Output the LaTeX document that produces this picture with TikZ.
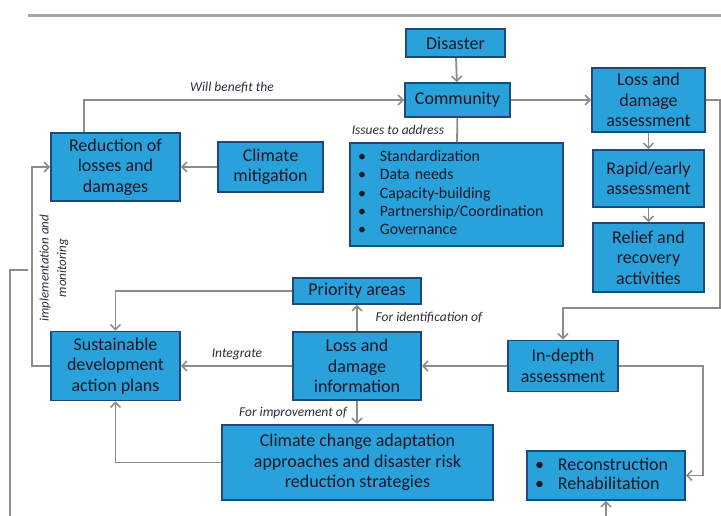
\documentclass[tikz,border=0pt]{standalone}
\usepackage{fontspec}
\setmainfont{Carlito}
\usetikzlibrary{arrows.meta}
\definecolor{boxfill}{RGB}{41,161,219}
\definecolor{boxline}{RGB}{31,73,125}
\definecolor{boxtext}{RGB}{22,24,38}
\definecolor{arrgray}{RGB}{140,140,140}
\definecolor{rulegray}{RGB}{168,168,168}
\tikzset{
  box/.style={draw=boxline, line width=1.6pt, fill=boxfill, text=boxtext,
    align=center, inner sep=2pt, font=\fontsize{18}{20.5}\selectfont},
  conn/.style={draw=arrgray, line width=1.8pt},
  arr/.style={conn, -{Straight Barb[length=5pt,width=10pt,line width=1.6pt]}},
  lbl/.style={font=\fontsize{13.5}{15}\selectfont\itshape, text=boxtext!90!white, inner sep=1pt},
}
\begin{document}
\begin{tikzpicture}[x=1pt,y=-1pt]
\useasboundingbox (0,0) rectangle (721,516);
\fill[white] (0,0) rectangle (721,516);
\draw[rulegray, line width=3pt] (28,16) -- (721,16);

\node[box, minimum width=99pt, minimum height=28pt] (dis) at (455.5,43) {Disaster};
\node[box, minimum width=105pt, minimum height=34pt] (com) at (457.5,100) {Community};
\node[box, minimum width=113pt, minimum height=64pt] (lda) at (648.5,100) {Loss and\\damage\\assessment};
\node[box, minimum width=111pt, minimum height=57pt] (rap) at (648.5,178.5) {Rapid/early\\assessment};
\node[box, minimum width=111pt, minimum height=69pt] (rel) at (648.5,257.5) {Relief and\\recovery\\activities};
\node[box, minimum width=213pt, minimum height=103pt, text width=197pt, inner xsep=8pt, align=left,
  font=\fontsize{15.8}{18.2}\selectfont] (iss) at (456.5,194.5)
  {\begin{tabular}{@{}l@{\hspace{14pt}}l@{}}
   • & Standardization\\
   • & Data needs\\
   • & Capacity-building\\
   • & Partnership/Coordination\\
   • & Governance
   \end{tabular}};
\node[box, minimum width=129pt, minimum height=68pt] (red) at (115.5,167) {Reduction of\\losses and\\damages};
\node[box, minimum width=105pt, minimum height=50pt] (cm) at (270.5,167) {Climate\\mitigation};
\node[box, minimum width=128pt, minimum height=26pt] (pri) at (357,291) {Priority areas};
\node[box, minimum width=128pt, minimum height=68pt] (ldi) at (357,366) {Loss and\\damage\\information};
\node[box, minimum width=110pt, minimum height=51pt] (ind) at (563,366) {In-depth\\assessment};
\node[box, minimum width=129pt, minimum height=69pt] (sdap) at (115.5,366) {Sustainable\\development\\action plans};
\node[box, minimum width=271pt, minimum height=75pt] (cca) at (357.5,462.5) {Climate change adaptation\\approaches and disaster risk\\reduction strategies};
\node[box, minimum width=158pt, minimum height=49pt, text width=142pt, inner xsep=8pt, align=left] (rec) at (606,475.5)
  {\begin{tabular}{@{}l@{\hspace{14pt}}l@{}}
   • & Reconstruction\\[-1.5pt]
   • & Rehabilitation
   \end{tabular}};

% labels
\node[lbl] (lwill) at (232,88) {Will benefit the};
\node[lbl] (liss) at (398,130) {Issues to address};
\node[lbl] (lident) at (429,318) {For identification of};
\node[lbl] (lint) at (237,354) {Integrate};
\node[lbl] (limp) at (293,413) {For improvement of};
\node[lbl, rotate=90, align=center, font=\fontsize{13}{17.5}\selectfont\itshape] (limpl) at (54,268) {implementation and\\monitoring};

% coordinates
\coordinate (c1) at (720,308);
\coordinate (c2) at (703,366);
\coordinate (c3) at (32,366);
\coordinate (f1) at (28,270);
\coordinate (f2) at (10,270);
\coordinate (f3) at (10,516);
\coordinate (f4) at (606,516);

% connectors
\draw[arr] (dis) -- (com);
\draw[arr] (com) -- (lda);
\draw[arr] (lda) -- (rap);
\draw[arr] (rap) -- (rel);
\draw[conn] (com) -- (iss);
\draw[arr] (cm) -- (red);
\draw[arr] ([xshift=-31.5pt]red.north) |- (com.west);
\draw[arr] (lda.east) -| (c1) -| (ind.north);
\draw[arr] (ind) -- (ldi);
\draw[arr] (ind.east) -- (c2) |- (rec.east);
\draw[arr] (ldi) -- (pri);
\draw[arr] (pri.west) -| (sdap.north);
\draw[arr] (ldi) -- (sdap);
\draw[arr] (ldi.south) -- (ldi.south |- cca.north);
\draw[arr] (cca.west) -| (sdap.south);
\draw[arr] (sdap.west) -- (c3) |- (red.west);
\draw[conn] (f1) -- (f2) -- (f3);
\draw[arr] (f4) -- (rec.south);
\end{tikzpicture}
\end{document}
